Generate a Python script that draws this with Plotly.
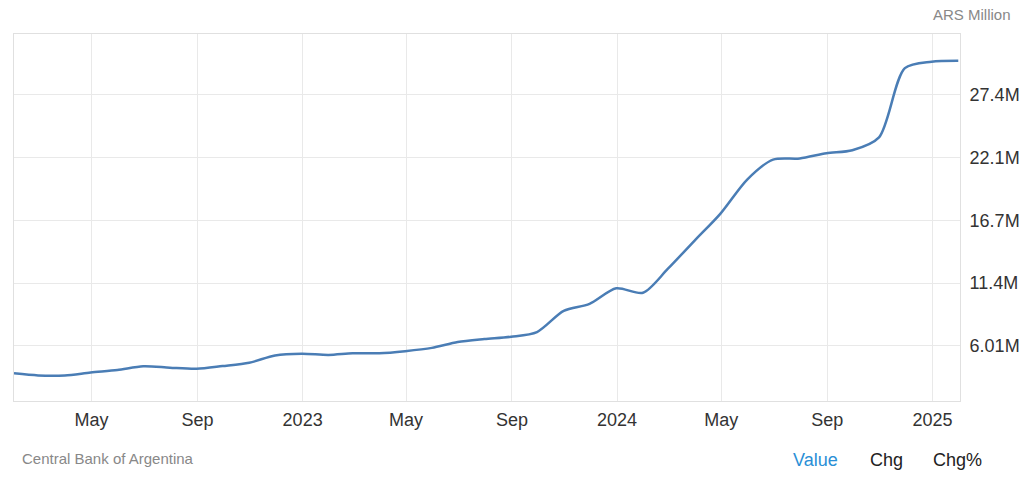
import plotly.graph_objects as go

# Monthly values, ARS million (in millions)
dates = ["2022-01-31", "2022-02-28", "2022-03-31", "2022-04-30", "2022-05-31", "2022-06-30",
         "2022-07-31", "2022-08-31", "2022-09-30", "2022-10-31", "2022-11-30", "2022-12-31",
         "2023-01-31", "2023-02-28", "2023-03-31", "2023-04-30", "2023-05-31", "2023-06-30",
         "2023-07-31", "2023-08-31", "2023-09-30", "2023-10-31", "2023-11-30", "2023-12-31",
         "2024-01-31", "2024-02-29", "2024-03-31", "2024-04-30", "2024-05-31", "2024-06-30",
         "2024-07-31", "2024-08-31", "2024-09-30", "2024-10-31", "2024-11-30", "2024-12-31",
         "2025-01-31"]
values = [3.68, 3.50, 3.50, 3.75, 3.96, 4.28,
          4.16, 4.07, 4.30, 4.58, 5.20, 5.35,
          5.25, 5.39, 5.39, 5.57, 5.85, 6.35,
          6.60, 6.80, 7.20, 9.00, 9.60, 10.93,
          10.55, 12.60, 15.00, 17.30, 20.20, 21.90,
          22.00, 22.45, 22.70, 23.80, 29.70, 30.25,
          30.33]

x_tick_vals = ["2022-05-01", "2022-09-01", "2023-01-01", "2023-05-01", "2023-09-01",
               "2024-01-01", "2024-05-01", "2024-09-01", "2025-01-01"]
x_tick_text = ["May", "Sep", "2023", "May", "Sep", "2024", "May", "Sep", "2025"]

y_tick_vals = [6.01, 11.365, 16.72, 22.075, 27.43]
y_tick_text = ["6.01M", "11.4M", "16.7M", "22.1M", "27.4M"]

FONT = "Liberation Sans, Arial, Helvetica, sans-serif"

# plot area in pixels: x 14..960, y 34..401
PL, PR, PT, PB = 14, 960, 34, 401
PW, PH = PR - PL, PB - PT

fig = go.Figure()
fig.add_trace(go.Scatter(
    x=dates, y=values, mode="lines",
    line=dict(color="#4a7db5", width=2.5, shape="spline", smoothing=0.8),
    hoverinfo="skip", showlegend=False,
))

fig.update_layout(
    width=1024, height=485,
    margin=dict(l=PL, r=1024 - PR, t=PT, b=485 - PB, autoexpand=False),
    paper_bgcolor="white", plot_bgcolor="white",
    font=dict(family=FONT, color="#333333", size=18),
    xaxis=dict(
        range=["2022-01-31", "2025-02-02"],
        tickvals=x_tick_vals, ticktext=x_tick_text,
        showgrid=True, gridcolor="#e9e9e9", gridwidth=1,
        showline=True, linecolor="#e0e0e0", linewidth=1, mirror=True,
        ticks="", ticklabelstandoff=2, tickfont=dict(size=18, color="#333333"),
        zeroline=False, fixedrange=True,
    ),
    yaxis=dict(
        range=[1.32, 32.61], side="right",
        tickvals=y_tick_vals, ticktext=y_tick_text,
        showgrid=True, gridcolor="#e9e9e9", gridwidth=1,
        showline=True, linecolor="#e0e0e0", linewidth=1, mirror=True,
        ticks="", ticklabelstandoff=5, tickfont=dict(size=18, color="#333333"),
        zeroline=False, fixedrange=True,
    ),
)

fig.add_annotation(text="ARS Million", xref="paper", yref="paper",
                   x=(1013 - PL) / PW, y=(PB - 14) / PH, xanchor="right", yanchor="middle",
                   showarrow=False, font=dict(size=15, color="#888888", family=FONT))
fig.add_annotation(text="Central Bank of Argentina", xref="paper", yref="paper",
                   x=(20 - PL) / PW, y=(PB - 459) / PH, xanchor="left", yanchor="middle",
                   showarrow=False, font=dict(size=15, color="#888888", family=FONT))
for txt, xc, col in [("Value", 815, "#2a8fd6"), ("Chg", 886, "#222222"), ("Chg%", 957, "#222222")]:
    fig.add_annotation(text=txt, xref="paper", yref="paper",
                       x=(xc - PL) / PW, y=(PB - 460) / PH, xanchor="center", yanchor="middle",
                       showarrow=False, font=dict(size=18, color=col, family=FONT))

fig.write_html("out.html", config={"displayModeBar": False, "staticPlot": True},
               post_script="document.body.style.margin='0';document.body.style.overflow='hidden';")
